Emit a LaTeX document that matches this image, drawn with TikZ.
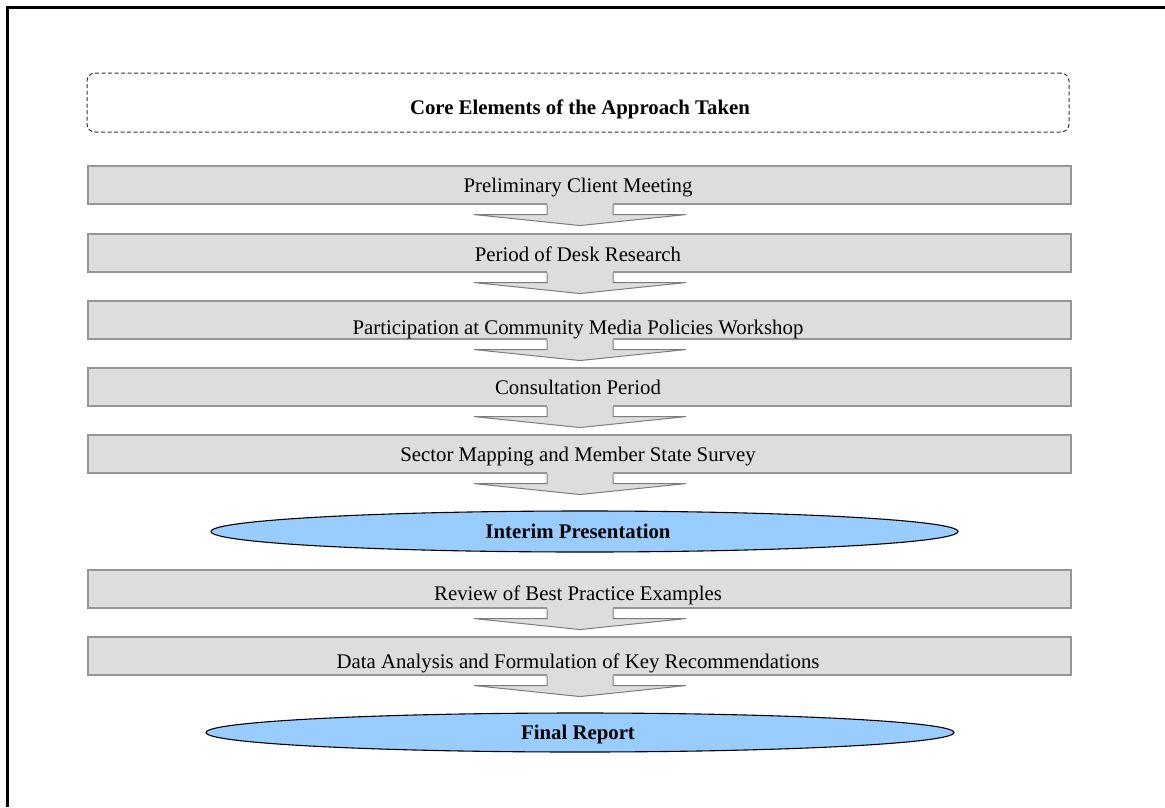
\documentclass[tikz,border=0pt]{standalone}
\usepackage{fontspec}
\setmainfont{Liberation Serif}
\usetikzlibrary{shapes.geometric,calc}
\definecolor{barfill}{RGB}{221,221,221}
\definecolor{barline}{RGB}{150,150,150}
\definecolor{arrline}{RGB}{125,125,125}
\definecolor{ellfill}{RGB}{153,204,255}
\tikzset{
  bar/.style={rectangle, fill=barfill, draw=barline, line width=1.1pt, minimum width=983pt, minimum height=38pt, inner sep=0pt},
  lbl/.style={anchor=base, inner sep=0pt, font=\fontsize{20.8pt}{25pt}\selectfont},
  blbl/.style={lbl, font=\fontsize{20.8pt}{25pt}\selectfont\bfseries},
  milestone/.style={ellipse, fill=ellfill, draw=black, line width=1.1pt, inner sep=0pt},
  titlebox/.style={rectangle, rounded corners=8pt, draw=black!80, dash pattern=on 4pt off 2.5pt, line width=1pt, minimum width=982pt, minimum height=59pt, inner sep=0pt},
  arrfill/.style={fill=barfill},
  arrdraw/.style={draw=arrline, line width=1pt, line join=miter},
}
\newcommand{\blockarr}[1]{%
  \fill[arrfill] ($(#1.south)+(-32.5,-1.5)$) -- ($(#1.south)+(-32.5,10)$) -- ($(#1.south)+(-105.5,10)$) -- ($(#1.south)+(0.5,21)$) -- ($(#1.south)+(106.5,10)$) -- ($(#1.south)+(33.5,10)$) -- ($(#1.south)+(33.5,-1.5)$) -- cycle;
  \draw[arrdraw] ($(#1.south)+(-32.5,0)$) -- ($(#1.south)+(-32.5,10)$) -- ($(#1.south)+(-105.5,10)$) -- ($(#1.south)+(0.5,21)$) -- ($(#1.south)+(106.5,10)$) -- ($(#1.south)+(33.5,10)$) -- ($(#1.south)+(33.5,0)$);}
\begin{document}
\begin{tikzpicture}[x=1pt,y=-1pt]
\useasboundingbox (0,0) rectangle (1165,807);
\fill[white] (0,0) rectangle (1165,807);
% frame (left and top edges)
\draw[line width=2.2pt] (7.5,807) -- (7.5,7.5) -- (1165,7.5);
% title
\node[titlebox] (title) at (578,102.5) {};
\node[blbl] (titletext) at (580,114) {Core Elements of the Approach Taken};
% bars
\node[bar] (b1) at (579.5,185) {};
\node[bar] (b2) at (579.5,253) {};
\node[bar] (b3) at (579.5,320) {};
\node[bar] (b4) at (579.5,387) {};
\node[bar] (b5) at (579.5,454) {};
\node[bar] (b6) at (579.5,589) {};
\node[bar] (b7) at (579.5,656) {};
% milestones
\node[milestone, minimum width=747pt, minimum height=41pt] (m1) at (584.5,531.5) {};
\node[milestone, minimum width=748pt, minimum height=39pt] (m2) at (580,732.5) {};
% arrows
\blockarr{b1}
\blockarr{b2}
\blockarr{b3}
\blockarr{b4}
\blockarr{b5}
\blockarr{b6}
\blockarr{b7}
% labels
\node[lbl] (t1) at (578,192) {Preliminary Client Meeting};
\node[lbl] (t2) at (578,261) {Period of Desk Research};
\node[lbl] (t3) at (578,334) {Participation at Community Media Policies Workshop};
\node[lbl] (t4) at (578,394) {Consultation Period};
\node[lbl] (t5) at (578,461) {Sector Mapping and Member State Survey};
\node[blbl] (mt1) at (578,538) {Interim Presentation};
\node[lbl] (t6) at (578,600) {Review of Best Practice Examples};
\node[lbl] (t7) at (578,668) {Data Analysis and Formulation of Key Recommendations};
\node[blbl] (mt2) at (578,739) {Final Report};
\end{tikzpicture}
\end{document}
